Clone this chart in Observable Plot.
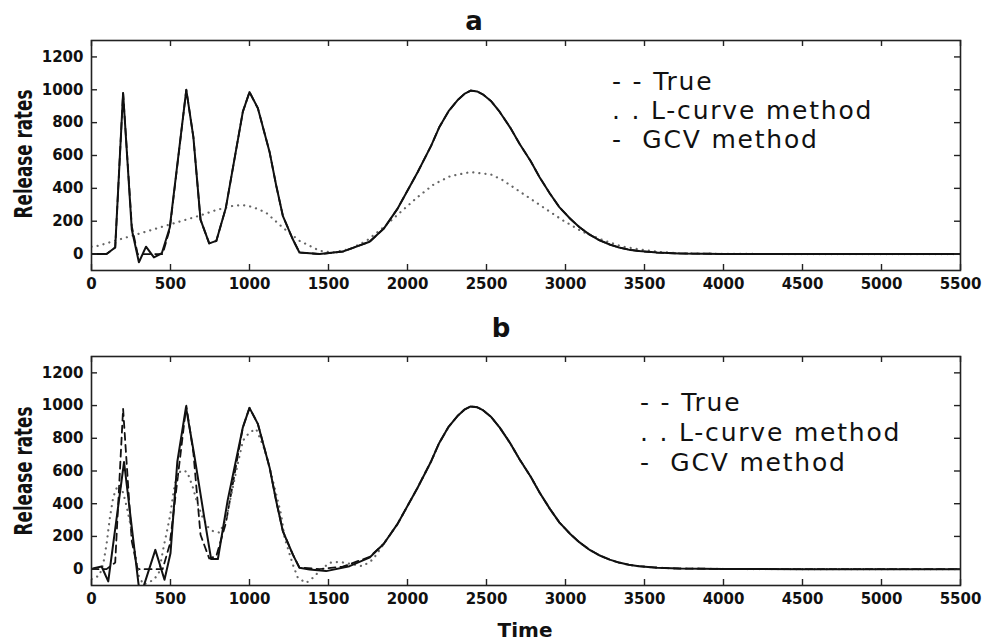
<!DOCTYPE html>
<html><head><meta charset="utf-8">
<script src="https://cdn.jsdelivr.net/npm/d3@7"></script>
<script src="https://cdn.jsdelivr.net/npm/@observablehq/plot@0.6"></script>
<style>
body{margin:0;background:#fff;}
#wrap{position:relative;width:986px;height:641px;overflow:hidden;background:#fff;}
.panel{position:absolute;left:0;}
.title{position:absolute;font-family:"DejaVu Sans",sans-serif;font-weight:bold;font-size:26px;line-height:26px;transform:translateX(-50%);z-index:2;color:#111;}
.xlab{position:absolute;font-family:"DejaVu Sans",sans-serif;font-weight:bold;font-size:20px;line-height:20px;transform:translateX(-50%);z-index:2;color:#111;}
.legend{position:absolute;font-family:"DejaVu Sans",sans-serif;font-size:25px;white-space:pre;z-index:2;letter-spacing:1.8px;color:#111;}
.ylab{position:absolute;font-family:"Liberation Sans Narrow","DejaVu Sans Condensed","DejaVu Sans",sans-serif;font-weight:bold;font-size:24.5px;line-height:24px;white-space:nowrap;transform:translate(-50%,-50%) rotate(-90deg) scaleX(0.76);z-index:2;color:#111;}
</style>
</head>
<body>
<div id="wrap"></div>
<script>
// ---- data ----
const panelTitles = ["a", "b"];
const xLabel = "Time";
const yLabel = "Release rates";
const legendLabels = ["- - True", ". . L-curve method", "-  GCV method"];
const xTicks = [0, 500, 1000, 1500, 2000, 2500, 3000, 3500, 4000, 4500, 5000, 5500];
const yTicks = [0, 200, 400, 600, 800, 1000, 1200];

// True release rate (dashed), [time, rate]
const trueSeries = [[0,0],[95,0],[150,40],[200,980],[255,170],[292,0],[450,0],[495,150],[600,1000],[645,710],[690,210],[745,65],[790,80],[850,280],[958,867],[1000,986],[1053,888],[1127,622],[1169,417],[1211,233],[1274,90],[1316,10],[1445,0],[1590,15],[1760,75],[1850,155],[1936,275],[2064,498],[2150,660],[2200,770],[2260,870],[2320,940],[2360,975],[2400,995],[2440,990],[2480,970],[2530,930],[2584,865],[2650,770],[2710,670],[2780,565],[2836,468],[2900,370],[2961,286],[3030,215],[3087,165],[3150,120],[3213,85],[3280,58],[3339,40],[3400,27],[3465,18],[3580,9],[3717,4],[4000,1],[4500,0],[5500,0]];

// Panel a: GCV (solid)
const gcvA = [[0,0],[95,0],[150,40],[200,980],[255,150],[300,-50],[345,45],[395,-20],[445,5],[495,160],[600,1000],[645,710],[690,210],[745,65],[790,80],[850,280],[958,867],[1000,986],[1053,888],[1127,622],[1169,417],[1211,233],[1274,90],[1316,10],[1445,0],[1590,15],[1760,75],[1850,155],[1936,275],[2064,498],[2150,660],[2200,770],[2260,870],[2320,940],[2360,975],[2400,995],[2440,990],[2480,970],[2530,930],[2584,865],[2650,770],[2710,670],[2780,565],[2836,468],[2900,370],[2961,286],[3030,215],[3087,165],[3150,120],[3213,85],[3280,58],[3339,40],[3400,27],[3465,18],[3580,9],[3717,4],[4000,1],[4500,0],[5500,0]];

// Panel a: L-curve (dotted)
const lcurveA = [[0,45],[42,50],[149,81],[255,111],[361,141],[467,172],[573,202],[679,232],[786,267],[892,293],[955,299],[1019,287],[1104,253],[1210,162],[1316,81],[1444,20],[1529,10],[1635,30],[1741,81],[1847,162],[1953,253],[2059,343],[2166,424],[2272,475],[2399,499],[2527,485],[2601,451],[2727,370],[2853,289],[2979,208],[3105,137],[3231,87],[3357,46],[3483,26],[3600,12],[3735,5],[4000,1],[4500,0],[5500,0]];

// Panel b: GCV (solid)
const gcvB = [[0,0],[15,6],[64,16],[106,-75],[206,655],[298,-95],[315,-130],[330,-105],[404,118],[462,-65],[500,97],[543,655],[598,990],[649,706],[713,320],[757,62],[800,62],[862,422],[958,867],[1000,986],[1053,888],[1127,622],[1169,417],[1211,233],[1274,90],[1316,8],[1380,-2],[1485,-12],[1633,18],[1759,70],[1850,155],[1936,275],[2064,498],[2150,660],[2200,770],[2260,870],[2320,940],[2360,975],[2400,995],[2440,990],[2480,970],[2530,930],[2584,865],[2650,770],[2710,670],[2780,565],[2836,468],[2900,370],[2961,286],[3030,215],[3087,165],[3150,120],[3213,85],[3280,58],[3339,40],[3400,27],[3465,18],[3580,9],[3717,4],[4000,1],[4500,0],[5500,0]];

// Panel b: L-curve (dotted)
const lcurveB = [[0,-60],[50,-40],[75,35],[96,158],[117,320],[138,442],[165,510],[185,505],[202,462],[223,381],[245,280],[266,158],[287,37],[300,-45],[330,-95],[394,-65],[426,-24],[457,138],[479,239],[500,341],[521,483],[543,584],[574,604],[606,594],[640,505],[670,402],[702,320],[735,260],[768,233],[810,223],[852,305],[916,601],[958,785],[1000,836],[1042,857],[1095,734],[1127,622],[1169,458],[1200,335],[1222,192],[1274,29],[1306,-53],[1359,-84],[1401,-53],[1443,-12],[1506,39],[1570,45],[1633,33],[1717,18],[1781,59],[1850,155],[1936,275],[2064,498],[2150,660],[2200,770],[2260,870],[2320,940],[2360,975],[2400,995],[2440,990],[2480,970],[2530,930],[2584,865],[2650,770],[2710,670],[2780,565],[2836,468],[2900,370],[2961,286],[3030,215],[3087,165],[3150,120],[3213,85],[3280,58],[3339,40],[3400,27],[3465,18],[3580,9],[3717,4],[4000,1],[4500,0],[5500,0]];

// ---- drawing ----
const wrap = document.getElementById("wrap");
const X = d => d[0], Y = d => d[1], I = d => d;
const fmt = d3.format("d");

function panel({gcv, lcurve, top, height, marginTop, marginBottom}) {
  const W = 986, mL = 91, mR = 26;
  const fw = W - mL - mR, fh = height - marginTop - marginBottom, tk = 6;
  const svg = Plot.plot({
    width: W, height,
    marginLeft: mL, marginRight: mR, marginTop, marginBottom,
    x: {domain: [0, 5500]},
    y: {domain: [-100, 1300]},
    style: {fontFamily: "DejaVu Sans, sans-serif", fontWeight: "bold", fontSize: "15px", color: "#111", background: "transparent", overflow: "visible"},
    marks: [
      Plot.line(trueSeries, {x: X, y: Y, stroke: "#111", strokeWidth: 1.8, strokeDasharray: "7,5", clip: true}),
      Plot.line(lcurve, {x: X, y: Y, stroke: "#666", strokeWidth: 2.2, strokeDasharray: "0.1,6", strokeLinecap: "round", clip: true}),
      Plot.line(gcv, {x: X, y: Y, stroke: "#111", strokeWidth: 2, clip: true}),
      Plot.tickX(xTicks, {x: I, insetTop: fh - tk, stroke: "#222", strokeWidth: 1.4}),
      Plot.tickX(xTicks, {x: I, insetBottom: fh - tk, stroke: "#222", strokeWidth: 1.4}),
      Plot.tickY(yTicks, {y: I, insetRight: fw - tk, stroke: "#222", strokeWidth: 1.4}),
      Plot.tickY(yTicks, {y: I, insetLeft: fw - tk, stroke: "#222", strokeWidth: 1.4}),
      Plot.frame({stroke: "#222", strokeWidth: 1.6}),
      Plot.axisX({anchor: "bottom", ticks: xTicks, tickSize: 0, tickPadding: 8, tickFormat: fmt, label: null}),
      Plot.axisY({anchor: "left", ticks: yTicks, tickSize: 0, tickPadding: 8, tickFormat: fmt, label: null})
    ]
  });
  svg.classList.add("panel");
  svg.style.top = top + "px";
  wrap.appendChild(svg);
}

panel({gcv: gcvA, lcurve: lcurveA, top: 0, height: 300, marginTop: 40, marginBottom: 30});
panel({gcv: gcvB, lcurve: lcurveB, top: 300, height: 320, marginTop: 56, marginBottom: 35});

function addDiv(cls, text, left, top, extra) {
  const d = document.createElement("div");
  d.className = cls;
  d.textContent = text;
  d.style.left = left + "px";
  d.style.top = top + "px";
  if (extra) Object.assign(d.style, extra);
  wrap.appendChild(d);
  return d;
}

addDiv("title", panelTitles[0], 474, 8);
addDiv("title", panelTitles[1], 501, 315);
addDiv("xlab", xLabel, 525, 620);
addDiv("ylab", yLabel, 24, 154);
addDiv("ylab", yLabel, 24, 471);

const legendPos = [{left: 612, top: 67, lh: 29}, {left: 640, top: 388, lh: 30}];
legendPos.forEach(p => {
  legendLabels.forEach((t, i) => {
    addDiv("legend", t, p.left, p.top + i * p.lh, {lineHeight: p.lh + "px"});
  });
});
</script>
</body></html>
